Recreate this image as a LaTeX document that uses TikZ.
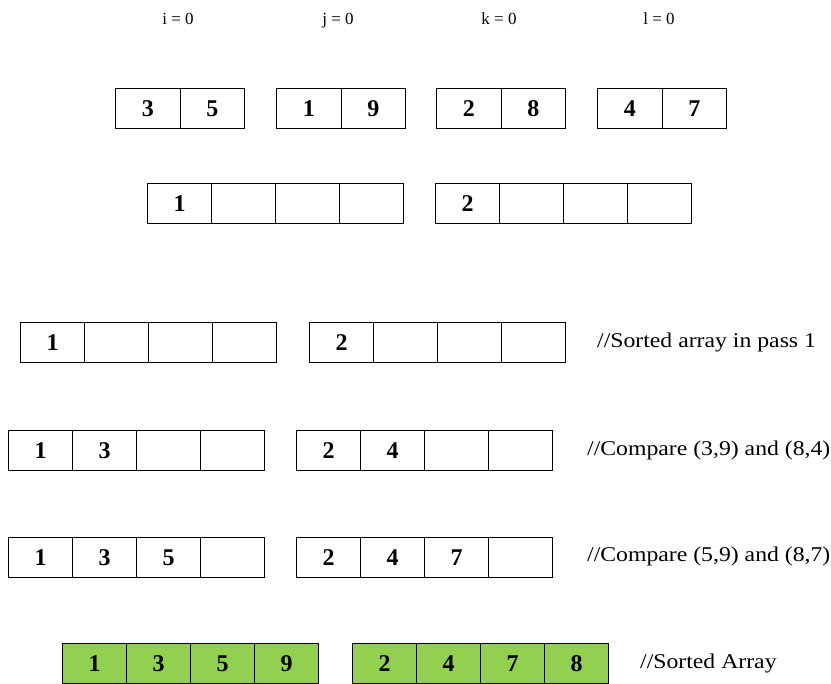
\documentclass[tikz,border=0pt]{standalone}
\usepackage{fontspec}
\setmainfont{Liberation Serif}
\definecolor{cellgreen}{HTML}{92D050}
\newcommand{\widetext}[1]{\scalebox{1.13}[1]{#1}}
\begin{document}
\begin{tikzpicture}[x=1pt,y=-1pt,
  cell/.style={draw, line width=1.1pt, minimum width=64pt, minimum height=40pt,
    inner sep=0pt, anchor=north west, font=\fontsize{24}{24}\selectfont\bfseries},
  gcell/.style={cell, fill=cellgreen},
  toplabel/.style={font=\fontsize{17}{17}\selectfont, inner sep=0pt, anchor=base},
  note/.style={font=\fontsize{21}{21}\selectfont, anchor=west, inner sep=0pt}]
\useasboundingbox (0,0) rectangle (831,684);
% top labels
\node[toplabel] (li) at (178,25) {i = 0};
\node[toplabel] (lj) at (338,25) {j = 0};
\node[toplabel] (lk) at (499,25) {k = 0};
\node[toplabel] (ll) at (659,25) {l = 0};
% row 1
\foreach \v [count=\i] in {3,5} \node[cell, minimum width=64.5pt] (a\i) at (115+64.5*\i-64.5,88) {\v};
\foreach \v [count=\i] in {1,9} \node[cell, minimum width=64.5pt] (b\i) at (276+64.5*\i-64.5,88) {\v};
\foreach \v [count=\i] in {2,8} \node[cell, minimum width=64.5pt] (c\i) at (436+64.5*\i-64.5,88) {\v};
\foreach \v [count=\i] in {4,7} \node[cell, minimum width=64.5pt] (d\i) at (597+64.5*\i-64.5,88) {\v};
% row 2
\foreach \v [count=\i] in {1,{},{},{}} \node[cell] (p\i) at (147+64*\i-64,183) {\v};
\foreach \v [count=\i] in {2,{},{},{}} \node[cell] (q\i) at (435+64*\i-64,183) {\v};
% row 3
\foreach \v [count=\i] in {1,{},{},{}} \node[cell] (r\i) at (20+64*\i-64,322) {\v};
\foreach \v [count=\i] in {2,{},{},{}} \node[cell] (s\i) at (309+64*\i-64,322) {\v};
\node[note] (n1) at (597,342) {\widetext{//Sorted array in pass 1}};
% row 4
\foreach \v [count=\i] in {1,3,{},{}} \node[cell] (t\i) at (8+64*\i-64,430) {\v};
\foreach \v [count=\i] in {2,4,{},{}} \node[cell] (u\i) at (296+64*\i-64,430) {\v};
\node[note] (n2) at (587,450) {\widetext{//Compare (3,9) and (8,4)}};
% row 5
\foreach \v [count=\i] in {1,3,5,{}} \node[cell] (v\i) at (8+64*\i-64,537) {\v};
\foreach \v [count=\i] in {2,4,7,{}} \node[cell] (w\i) at (296+64*\i-64,537) {\v};
\node[note] (n3) at (587,556) {\widetext{//Compare (5,9) and (8,7)}};
% row 6
\foreach \v [count=\i] in {1,3,5,9} \node[gcell] (x\i) at (62+64*\i-64,643) {\v};
\foreach \v [count=\i] in {2,4,7,8} \node[gcell] (y\i) at (352+64*\i-64,643) {\v};
\node[note] (n4) at (640,663) {\widetext{//Sorted Array}};
\end{tikzpicture}
\end{document}
